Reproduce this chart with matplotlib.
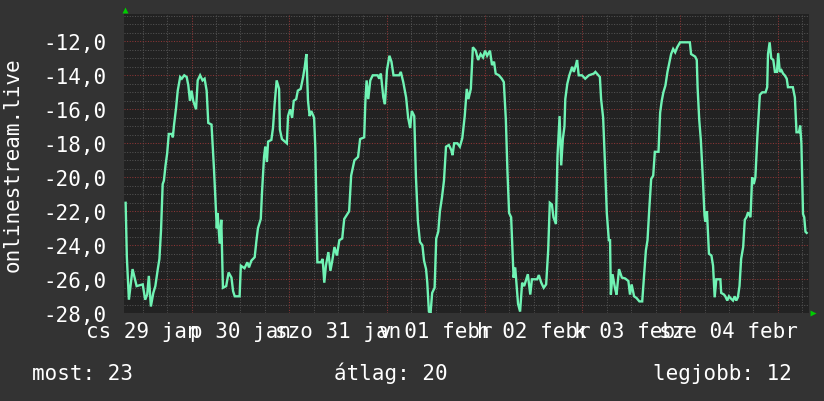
import numpy as np
import matplotlib
matplotlib.use("Agg")
import matplotlib.pyplot as plt
from matplotlib.transforms import blended_transform_factory

# hours since 29 Jan 00:00
hours = [
    7.8, 8.1, 8.6, 9.5, 10.5, 12.0, 12.6, 13.1, 13.5, 14.0, 14.6, 15.1, 15.7, 16.1, 16.5,
    16.9, 17.2, 17.6, 18.0, 18.4, 19.2, 19.4, 19.7, 20.2, 20.6, 21.2, 21.6, 22.2, 22.8,
    23.2, 23.6, 24.0, 24.4, 25.1, 25.5, 26.1, 26.7, 27.2, 27.7, 28.1, 28.9, 29.5, 30.2,
    30.4, 30.9, 31.3, 31.7, 32.5, 33.1, 33.8, 34.2, 34.6, 35.8, 36.1, 37.0, 37.7, 38.1,
    38.7, 39.5, 39.9, 40.3, 41.0, 41.3, 41.8, 42.1, 42.5, 42.8, 43.6, 44.0, 44.4, 44.9,
    45.5, 45.7, 46.2, 46.9, 47.4, 47.7, 48.2, 48.7, 49.1, 49.7, 50.1, 50.8, 51.4, 51.8,
    52.2, 52.6, 53.0, 53.4, 54.1, 54.4, 54.9, 55.8, 56.2, 56.6, 57.0, 57.6, 58.1, 58.5,
    59.1, 59.7, 60.3, 61.0, 61.5, 62.7, 63.2, 64.0, 64.9, 65.4, 66.4, 66.7, 67.0, 67.4,
    67.9, 68.5, 69.7, 70.1, 70.5, 71.1, 71.5, 72.0, 72.6, 73.1, 73.6, 75.0, 75.4, 76.0,
    76.7, 77.2, 77.7, 78.1, 78.7, 79.1, 79.6, 80.1, 80.7, 81.1, 81.6, 81.9, 82.3, 82.7,
    83.1, 83.7, 84.1, 84.6, 85.0, 85.5, 86.0, 86.5, 87.2, 87.8, 88.1, 88.5, 89.3, 89.9,
    90.5, 91.1, 91.6, 92.0, 92.6, 93.1, 93.8, 94.4, 95.0, 95.6, 96.1, 96.6, 97.3, 97.8,
    98.3, 98.7, 99.5, 100.2, 100.7, 101.2, 101.6, 102.0, 102.5, 103.1, 103.5, 104.2,
    104.7, 105.2, 105.7, 106.2, 106.6, 107.2, 107.6, 108.9, 109.3, 109.9, 110.5, 111.1,
    111.6, 112.0, 112.5, 112.9, 113.5, 113.9, 114.4, 114.8, 115.2, 115.6, 115.8, 116.3,
    116.8, 117.5, 117.9, 118.4, 118.7, 119.1, 119.9, 120.7, 121.6, 122.8, 123.2, 124.3,
    124.6, 125.1, 125.6, 126.0, 126.5, 126.8, 127.0, 127.4, 128.0, 128.4, 129.0, 129.7,
    130.5, 131.3, 131.7, 132.1, 132.7, 133.3, 134.0, 134.7, 135.1, 135.6, 136.0, 136.4,
    136.9, 137.4, 137.8, 138.7, 139.1, 139.5, 139.9, 140.4, 140.9, 141.4, 141.8, 142.3,
    142.8, 143.3, 144.0, 146.4, 146.7, 147.7, 148.1, 148.3, 148.7, 149.1, 149.6, 150.0,
    150.2, 150.6, 151.1, 151.7, 152.1, 152.5, 152.9, 153.9, 154.1, 154.8, 155.1, 155.6,
    156.0, 156.6, 157.0, 157.4, 157.8, 158.2, 158.6, 159.0, 159.5, 159.9, 160.3, 160.7,
    161.3, 161.7, 162.1, 162.5, 163.0, 163.6, 164.2, 165.0, 165.4, 165.6, 166.0, 166.4,
    166.9, 167.3, 167.8, 168.1, 168.5, 168.9, 169.3, 169.7, 170.2, 170.5, 171.7, 172.2,
    172.6, 173.2, 173.5, 173.8, 174.2, 174.5, 174.8, 175.1,
]
values = [
    -21.5, -24.7, -27.2, -25.4, -26.4, -26.3, -27.2, -26.9, -25.8, -27.6, -26.8, -26.4, -25.4, -24.8, -23.1,
    -20.4, -20.2, -19.3, -18.6, -17.45, -17.45, -17.65, -16.9, -15.9, -14.9, -14.1, -14.2, -14.0, -14.1,
    -14.6, -15.5, -14.9, -15.5, -16.0, -14.3, -14.0, -14.3, -14.2, -14.9, -16.8, -16.9, -19.5, -23.0,
    -22.1, -23.9, -22.5, -26.5, -26.4, -25.6, -25.9, -26.7, -27.0, -27.0, -25.2, -25.35, -25.0, -25.3,
    -24.9, -24.7, -23.8, -23.0, -22.45, -20.9, -18.8, -18.2, -19.1, -17.9, -17.8, -17.1, -15.7, -14.3,
    -14.8, -17.2, -17.75, -17.9, -18.0, -16.4, -16.0, -16.5, -15.5, -15.4, -14.9, -14.8, -14.1, -13.5,
    -12.75, -15.5, -16.4, -16.1, -16.5, -18.3, -25.0, -25.0, -24.8, -26.2, -25.2, -24.4, -25.5, -25.0,
    -24.1, -24.6, -23.7, -23.6, -22.45, -22.0, -19.9, -19.0, -18.8, -17.75, -17.65, -15.5, -14.3, -15.4,
    -14.3, -14.0, -14.0, -14.2, -13.9, -15.3, -15.7, -13.7, -12.85, -13.2, -14.0, -14.0, -13.8, -14.4,
    -15.3, -16.5, -17.1, -16.1, -16.4, -19.9, -22.6, -23.8, -24.0, -24.9, -25.4, -26.2, -27.9, -28.0,
    -26.8, -26.5, -23.6, -23.2, -22.0, -21.2, -20.2, -18.2, -18.1, -18.4, -18.7, -18.0, -18.0, -18.2,
    -17.7, -16.4, -14.8, -15.4, -14.8, -12.35, -12.55, -13.1, -12.75, -12.95, -12.55, -12.85, -12.55, -13.4,
    -13.2, -13.9, -14.0, -14.2, -14.4, -16.6, -19.7, -22.1, -22.35, -25.9, -25.3, -27.45,
    -27.9, -26.2, -26.4, -26.0, -25.7, -26.9, -26.0, -26.0, -25.75, -26.2, -26.5, -26.3,
    -24.3, -21.5, -21.6, -22.35, -22.75, -18.7, -16.4, -19.3, -17.75, -17.0, -15.4, -14.5,
    -14.0, -13.5, -13.8, -13.4, -13.1, -14.0, -14.0, -14.2, -14.0, -13.9, -13.8, -14.1,
    -15.4, -16.5, -19.5, -22.1, -23.7, -23.7, -26.9, -25.7, -26.5, -26.9, -25.4, -25.9,
    -25.95, -26.1, -26.9, -26.3, -27.0, -27.1, -27.3, -27.3, -26.0, -24.3, -23.7, -22.0,
    -20.1, -19.9, -18.5, -18.5, -16.2, -15.5, -15.0, -14.6, -13.8, -13.2, -12.75, -12.45,
    -12.65, -12.35, -12.06, -12.06, -12.75, -12.9, -13.1, -14.7, -16.6, -17.8, -20.1, -22.25,
    -22.6, -22.0, -24.5, -24.6, -25.2, -27.06, -26.0, -26.0, -26.8, -26.9, -27.0, -27.25,
    -27.0, -27.16, -27.25, -27.0, -27.25, -27.06, -26.4, -24.8, -24.1, -22.5, -22.35, -22.06,
    -22.35, -20.0, -20.4, -20.0, -17.55, -15.15, -15.0, -15.0, -14.7, -12.75, -12.06, -13.0,
    -13.1, -13.8, -13.8, -12.7, -13.8, -13.7, -13.9, -14.0, -14.2, -14.7, -14.7, -15.3,
    -17.35, -17.35, -16.96, -18.0, -22.16, -22.35, -23.2, -23.27,
]

day_labels = ["cs 29 jan", "p 30 jan", "szo 31 jan", "v 01 febr",
              "h 02 febr", "k 03 febr", "sze 04 febr"]
y_ticks = [-28, -26, -24, -22, -20, -18, -16, -14, -12]
legend_items = ["most: 23", "átlag: 20", "legjobb: 12"]
y_title = "onlinestream.live"

W, H = 824, 402
BG = "#333333"
FACE = "#222222"
TXT = "#ffffff"
FONT = "DejaVu Sans Mono"
FS = 15

fig = plt.figure(figsize=(W / 100, H / 100), dpi=100, facecolor=BG)
left, right, top, bottom = 124, 809, 14.5, 314.3
ax = fig.add_axes([left / W, 1 - bottom / H, (right - left) / W, (bottom - top) / H])
ax.set_facecolor(FACE)

x0 = 7.4
x1 = x0 + (right - left) / 97.7 * 24
ax.set_xlim(x0, x1)
ax.set_ylim(-28, -12 + (42.3 - top) / 17)

# grid: minor gray every 6h / 0.5, major red every day / 2.0
minor_style = dict(color="#525252", lw=0.75, ls=(0, (1, 1.5)), zorder=1)
major_style = dict(color="#8c3636", lw=0.75, ls=(0, (1, 1.5)), zorder=1.5)
for h in np.arange(12, x1, 6):
    if h % 24:
        ax.axvline(h, **minor_style)
for yv in np.arange(-28, -10.3, 0.5):
    if yv % 2:
        ax.axhline(yv, **minor_style)
for h in np.arange(24, x1, 24):
    ax.axvline(h, **major_style)
for yv in y_ticks:
    ax.axhline(yv, **major_style)

ax.plot(hours, values, color="#70f3b4", lw=1.7, zorder=3, solid_joinstyle="miter")

for s in ax.spines.values():
    s.set_visible(False)
ax.set_xticks([])
ax.set_yticks(y_ticks)
ax.set_yticklabels([f"{v:.1f}".replace(".", ",") for v in y_ticks],
                   fontfamily=FONT, fontsize=FS, color=TXT)
ax.tick_params(axis="y", length=0, pad=12.5)

# rrdtool-style day labels, centred at noon (they overlap in the original too)
tr = blended_transform_factory(ax.transData, fig.transFigure)
for i, lab in enumerate(day_labels):
    ax.text(12 + 24 * i, 1 - 338 / H, lab, transform=tr, ha="center", va="baseline",
            fontfamily=FONT, fontsize=FS, color=TXT, clip_on=False)

fig.text(13 / W, 1 - 165 / H, y_title, rotation=90, ha="center", va="center",
         fontfamily=FONT, fontsize=FS, color=TXT)

fig.text(32 / W, 1 - 380 / H, legend_items[0], ha="left", va="baseline",
         fontfamily=FONT, fontsize=FS, color=TXT)
fig.text(334 / W, 1 - 380 / H, legend_items[1], ha="left", va="baseline",
         fontfamily=FONT, fontsize=FS, color=TXT)
fig.text(792 / W, 1 - 380 / H, legend_items[2], ha="right", va="baseline",
         fontfamily=FONT, fontsize=FS, color=TXT)

# axis arrows
fig.lines.append(plt.Line2D([125 / W], [1 - 10.5 / H], marker="^", ms=5, color="#00cc00",
                            mec="none", transform=fig.transFigure))
fig.lines.append(plt.Line2D([813 / W], [1 - 314 / H], marker=">", ms=5, color="#00cc00",
                            mec="none", transform=fig.transFigure))

fig.savefig("out.png", dpi=100, facecolor=BG)
